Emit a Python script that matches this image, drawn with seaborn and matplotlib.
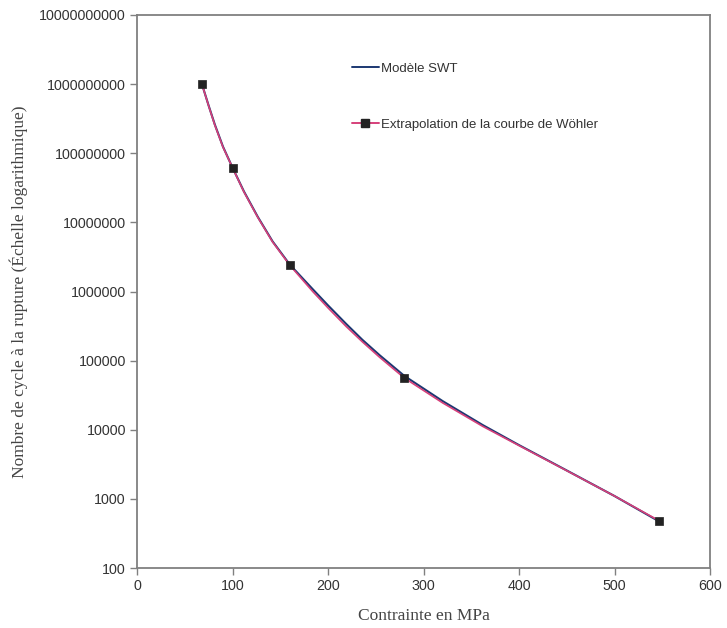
import matplotlib
matplotlib.use("Agg")
import matplotlib.pyplot as plt
from matplotlib.lines import Line2D
import seaborn as sns
import pandas as pd

# Modèle SWT curve
swt_stress = [68, 75, 81.5, 90, 100, 112, 126.5, 142, 160, 184, 200, 219, 236, 254, 280, 320, 362, 400, 449, 500, 547]
swt_cycles = [1.0e9, 4.9e8, 2.6e8, 1.25e8, 6.2e7, 2.8e7, 1.2e7, 5.3e6, 2.45e6, 1.08e6, 6.3e5, 3.4e5,
              2.0e5, 1.2e5, 6.0e4, 2.6e4, 1.17e4, 6.0e3, 2.62e3, 1.1e3, 470]

# Extrapolation de la courbe de Wöhler (smoothed curve)
wohler_curve_stress = [68, 75, 81.5, 90, 100, 112, 126.5, 142, 160, 184, 200, 219, 236, 254, 280, 320, 362, 400, 449, 500, 547]
wohler_curve_cycles = [1.0e9, 4.85e8, 2.55e8, 1.23e8, 6.2e7, 2.75e7, 1.18e7, 5.2e6, 2.4e6, 1.0e6, 5.8e5, 3.12e5,
                       1.87e5, 1.12e5, 5.6e4, 2.45e4, 1.12e4, 5.9e3, 2.6e3, 1.1e3, 480]

# Wöhler data points (markers)
wohler_stress = [68, 100, 160, 280, 547]
wohler_cycles = [1.0e9, 6.2e7, 2.42e6, 5.7e4, 476]

xticks = [0, 100, 200, 300, 400, 500, 600]
yticks = [1e2, 1e3, 1e4, 1e5, 1e6, 1e7, 1e8, 1e9, 1e10]

sns.set_style("white")
plt.rcParams['font.family'] = ['Liberation Sans', 'DejaVu Sans']

blue = "#1c3872"
pink = "#d6407a"

fig = plt.figure(figsize=(7.27, 6.28), dpi=100)
ax = fig.add_axes([137/727, 1 - 568/628, (710-137)/727, (568-15)/628])

df_swt = pd.DataFrame({"x": swt_stress, "y": swt_cycles})
df_wc = pd.DataFrame({"x": wohler_curve_stress, "y": wohler_curve_cycles})
df_wp = pd.DataFrame({"x": wohler_stress, "y": wohler_cycles})

sns.lineplot(data=df_swt, x="x", y="y", ax=ax, color=blue, lw=1.5, sort=False)
sns.lineplot(data=df_wc, x="x", y="y", ax=ax, color=pink, lw=1.2, sort=False)
sns.scatterplot(data=df_wp, x="x", y="y", ax=ax, marker="s", s=34, color="#222222",
                edgecolor="#222222", linewidth=0.5, zorder=5)

ax.set_yscale("log")
ax.set_xlim(0, 600)
ax.set_ylim(100, 1e10)
ax.set_xticks(xticks)
ax.set_xticklabels([str(t) for t in xticks])
ax.set_yticks(yticks)
ax.set_yticklabels([str(int(t)) for t in yticks])
ax.yaxis.set_minor_locator(matplotlib.ticker.NullLocator())

for s in ax.spines.values():
    s.set_color("#808080")
    s.set_linewidth(1.3)
ax.tick_params(axis="both", which="major", direction="out", length=5, width=1,
               color="#808080", labelsize=10.3, labelcolor="#333333", pad=3,
               bottom=True, left=True)

ax.set_xlabel("Contrainte en MPa", family=["Liberation Serif"], fontsize=12.5,
              color="#444444", labelpad=11)
ax.set_ylabel("Nombre de cycle à la rupture (Échelle logarithmique)",
              family=["Liberation Serif"], fontsize=12.5, color="#444444", labelpad=8)

handles = [
    Line2D([], [], color=blue, lw=1.4),
    Line2D([], [], color=pink, lw=1.4, marker="s", markersize=6,
           markerfacecolor="#222222", markeredgecolor="#222222"),
]
ax.legend(handles, ["Modèle SWT", "Extrapolation de la courbe de Wöhler"],
          loc="upper left", bbox_to_anchor=(0.355, 0.935), frameon=False,
          fontsize=9.5, labelspacing=3.3, handlelength=2.0, handletextpad=0.2,
          labelcolor="#333333")

fig.savefig("out.png", dpi=100, facecolor="white")
